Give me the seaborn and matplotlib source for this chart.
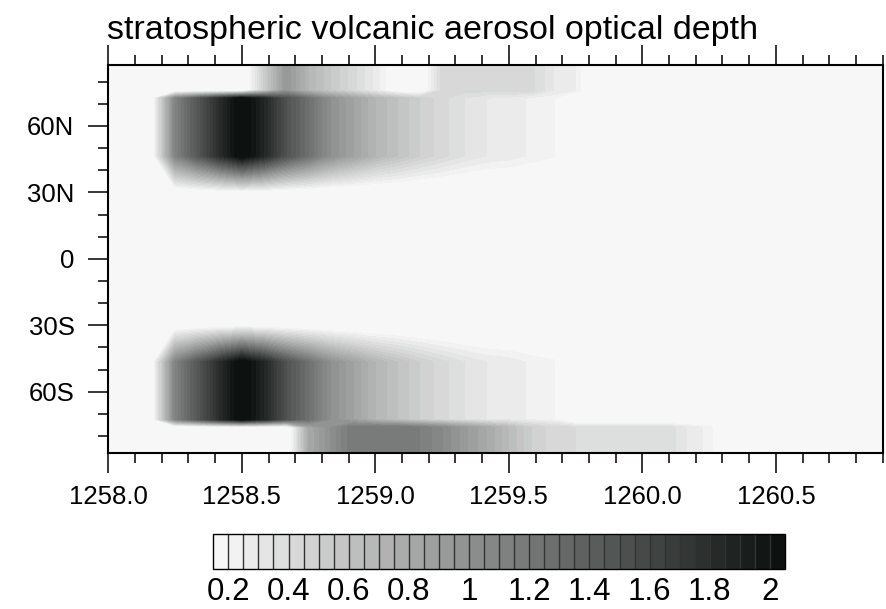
import numpy as np
import matplotlib
matplotlib.use("Agg")
import matplotlib.pyplot as plt
from matplotlib.ticker import MultipleLocator, FixedLocator, FormatStrFormatter
import seaborn as sns

# ---------------- data ----------------
# monthly time nodes (decimal years)
time = [1258.000, 1258.083, 1258.167, 1258.250, 1258.333, 1258.417,
        1258.500, 1258.583, 1258.667, 1258.750, 1258.833, 1258.917,
        1259.000, 1259.083, 1259.167, 1259.250, 1259.333, 1259.417,
        1259.500, 1259.583, 1259.667, 1259.750, 1259.833, 1259.917,
        1260.000, 1260.083, 1260.167, 1260.250, 1260.333, 1260.417,
        1260.500, 1260.583, 1260.667, 1260.750, 1260.833, 1260.917]

# latitude nodes of the field (deg, negative = south)
lat = [-90.0, -76.0, -72.5, -46.5, -29.0, 29.0, 46.5, 72.5, 76.0, 90.0]

# optical depth time series per latitude region
nh_band = [0, 0, 0.15, 1.1, 1.45, 1.8, 2.1, 1.85, 1.5, 1.25, 1.0, 0.85,
           0.7, 0.6, 0.5, 0.42, 0.35, 0.3, 0.28, 0.24, 0.21, 0, 0, 0,
           0, 0, 0, 0, 0, 0, 0, 0, 0, 0, 0, 0]
sh_band = [0, 0, 0.15, 1.1, 1.45, 1.8, 2.1, 1.85, 1.5, 1.25, 1.0, 0.85,
           0.7, 0.6, 0.5, 0.42, 0.35, 0.3, 0.28, 0.24, 0.21, 0, 0, 0,
           0, 0, 0, 0, 0, 0, 0, 0, 0, 0, 0, 0]
nh_polar = [0, 0, 0, 0, 0, 0, 0, 0.5, 0.95, 0.7, 0.55, 0.42,
            0.28, 0.1, 0.05, 0.42, 0.42, 0.42, 0.42, 0.42, 0.3, 0.25, 0, 0,
            0, 0, 0, 0, 0, 0, 0, 0, 0, 0, 0, 0]
sh_polar = [0, 0, 0, 0, 0, 0, 0, 0, 0, 0.8, 1.0, 1.2,
            1.2, 1.2, 1.15, 1.05, 0.92, 0.8, 0.65, 0.5, 0.42, 0.4, 0.4, 0.4,
            0.4, 0.4, 0.3, 0.23, 0, 0, 0, 0, 0, 0, 0, 0]
tropics = [0] * 36

# colour-bar levels and labels
levels = [0.2, 0.25, 0.3, 0.35, 0.4, 0.45, 0.5, 0.55, 0.6, 0.65, 0.7, 0.75,
          0.8, 0.85, 0.9, 0.95, 1.0, 1.05, 1.1, 1.15, 1.2, 1.25, 1.3, 1.35,
          1.4, 1.45, 1.5, 1.55, 1.6, 1.65, 1.7, 1.75, 1.8, 1.85, 1.9, 1.95, 2.0]
cbar_ticks = [0.2, 0.4, 0.6, 0.8, 1.0, 1.2, 1.4, 1.6, 1.8, 2.0]
cbar_labels = ["0.2", "0.4", "0.6", "0.8", "1", "1.2", "1.4", "1.6", "1.8", "2"]
lat_ticks = [-60, -30, 0, 30, 60]
lat_labels = ["60S", "30S", "0", "30N", "60N"]
title = "stratospheric volcanic aerosol optical depth"

# ---------------- style ----------------
sns.set_style("ticks")
plt.rcParams["font.family"] = ["Liberation Sans", "DejaVu Sans"]
plt.rcParams["text.color"] = "black"
plt.rcParams["xtick.color"] = "black"
plt.rcParams["ytick.color"] = "black"
plt.rcParams["xtick.labelcolor"] = "black"
plt.rcParams["ytick.labelcolor"] = "black"
plt.rcParams["axes.linewidth"] = 1.5

Z = np.vstack([sh_polar, sh_polar, sh_band, sh_band, tropics,
               tropics, nh_band, nh_band, nh_polar, nh_polar])

bounds = [-10.0] + levels + [100.0]
colors = sns.blend_palette(["#f6f7f6", "#0d1110"], n_colors=len(bounds) - 1)

fig = plt.figure(figsize=(8.87, 6.09), dpi=100)
W, H = 887.0, 609.0
ax = fig.add_axes([108.3 / W, 1 - 452.7 / H, (882.7 - 108.3) / W, (452.7 - 65.0) / H])

cs = ax.contourf(time, lat, Z, levels=bounds, colors=colors, antialiased=False)

ax.set_xlim(1258.0, 1260.9)
ax.set_ylim(-87.5, 87.5)

ax.xaxis.set_major_locator(MultipleLocator(0.5))
ax.xaxis.set_minor_locator(MultipleLocator(0.1))
ax.xaxis.set_major_formatter(FormatStrFormatter("%.1f"))
ax.yaxis.set_major_locator(FixedLocator(lat_ticks))
ax.set_yticklabels(lat_labels)
ax.yaxis.set_minor_locator(FixedLocator([-80, -70, -50, -40, -20, -10, 10, 20, 40, 50, 70, 80]))

ax.tick_params(axis="both", which="both", direction="out", colors="black", width=1.1)
ax.tick_params(axis="both", which="major", length=14.4, labelsize=18.5, pad=9)
ax.tick_params(axis="both", which="minor", length=7.2)
ax.tick_params(axis="x", which="both", top=True, labeltop=False)
ax.tick_params(axis="y", which="both", right=False)
ax.tick_params(axis="y", which="major", pad=10)
for s in ax.spines.values():
    s.set_visible(True)
    s.set_color("black")
    s.set_linewidth(1.5)
ax.set_xlabel("")
ax.set_ylabel("")

fig.text(107 / W, 1 - 39 / H, title, fontsize=24.5, ha="left", va="baseline", color="black")

cax = fig.add_axes([213.3 / W, 1 - 568.7 / H, 571.7 / W, 34.4 / H])
cb = fig.colorbar(cs, cax=cax, orientation="horizontal", drawedges=True, spacing="uniform")
cb.set_ticks(cbar_ticks)
cb.set_ticklabels(cbar_labels)
cb.ax.tick_params(length=0, labelsize=22.5, pad=6, labelcolor="black")
cb.outline.set_linewidth(1.0)
cb.outline.set_edgecolor("black")
cb.dividers.set_color("#333333")
cb.dividers.set_linewidth(1.0)

fig.savefig("out.png", dpi=100)
